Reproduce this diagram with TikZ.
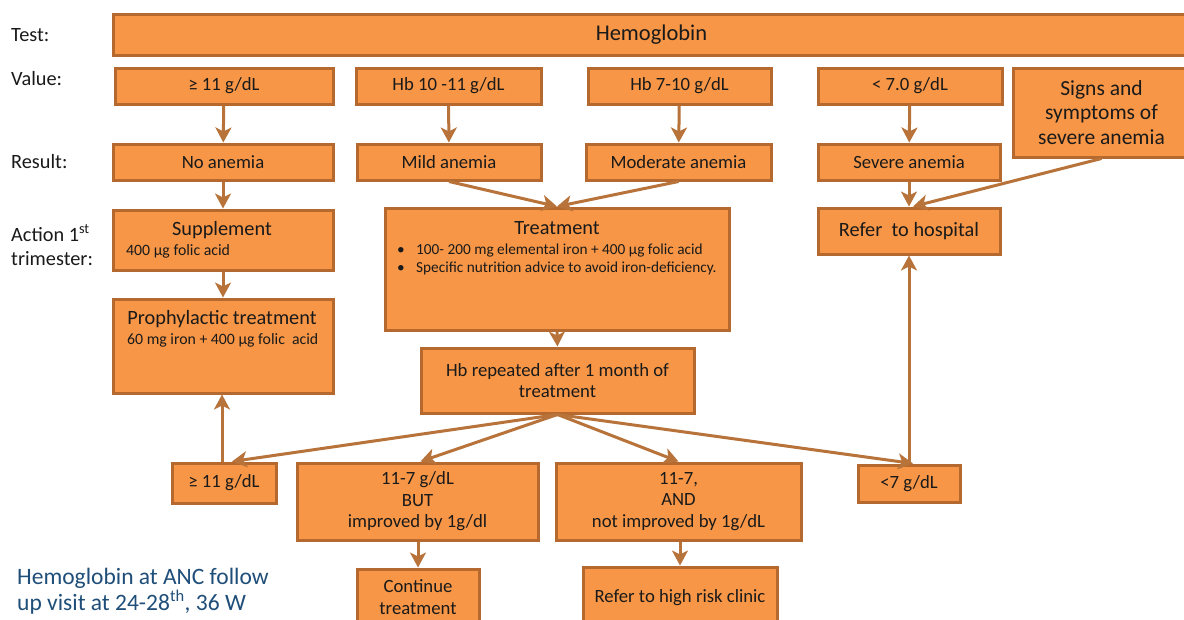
\documentclass[tikz,border=0pt]{standalone}
\usepackage{fontspec}
\setmainfont{Carlito}
\usetikzlibrary{arrows.meta,calc}

\definecolor{boxfill}{HTML}{F79646}
\definecolor{boxline}{HTML}{B5692E}
\definecolor{linkcol}{HTML}{B8733A}
\definecolor{notecol}{HTML}{1F4E79}
\definecolor{inktext}{HTML}{1A1A1A}

\tikzset{
  box/.style={draw=boxline, fill=boxfill, line width=3pt, inner sep=0pt,
    text=inktext, align=center, font=\fontsize{18.7}{21.5}\selectfont},
  rowlabel/.style={anchor=west, inner sep=0pt, text=inktext,
    font=\fontsize{20.3}{24}\selectfont, align=left},
  titletext/.style={inner sep=0pt, text=inktext, font=\fontsize{20.3}{22}\selectfont},
  smalltext/.style={anchor=west, inner sep=0pt, text=inktext, font=\fontsize{15.8}{17}\selectfont},
  bullettext/.style={anchor=west, inner sep=0pt, text=inktext, font=\fontsize{15.3}{16}\selectfont},
  link/.style={draw=linkcol, line width=3pt,
    -{Stealth[length=15pt,width=16pt,inset=4pt]}}
}

% \flowbox[options]{name}{x1}{y1}{x2}{y2}{text}: box given by its corners
\newcommand\flowbox[7][]{%
  \node[box, minimum width={(#5)-(#3)}, minimum height={(#6)-(#4)}, #1]
    (#2) at ({((#3)+(#5))/2},{((#4)+(#6))/2}) {#7};}

\begin{document}
\begin{tikzpicture}[x=1pt,y=-1pt]
\clip (0,0) rectangle (1184,619);
\fill[white] (0,0) rectangle (1184,619);

% row labels
\node[rowlabel] (ltest) at (11,35) {Test:};
\node[rowlabel] (lvalue) at (11,79) {Value:};
\node[rowlabel] (lresult) at (11,162) {Result:};
\node[rowlabel] (laction) at (11,245) {Action 1\textsuperscript{st}\\trimester:};

% test
\flowbox[font=\fontsize{22.5}{24}\selectfont]{test}{113}{14}{1190}{55}{Hemoglobin}

% values
\flowbox{v1}{115}{68}{333}{104}{≥ 11 g/dL}
\flowbox{v2}{356}{68}{541}{104}{Hb 10 -11 g/dL}
\flowbox{v3}{588}{68}{771}{104}{Hb 7-10 g/dL}
\flowbox{v4}{818}{68}{1002}{104}{< 7.0 g/dL}
\flowbox[font=\fontsize{21.5}{24.5}\selectfont]{signs}{1013}{68}{1190}{157}{Signs and\\symptoms of\\severe anemia}

% results
\flowbox{r1}{113}{144}{333}{180}{No anemia}
\flowbox{r2}{357}{144}{541}{180}{Mild anemia}
\flowbox{r3}{586}{144}{771}{180}{Moderate anemia}
\flowbox{r4}{818}{144}{1000}{180}{Severe anemia}

% first-trimester actions
\flowbox{suppl}{113}{210}{333}{270}{}
\node[titletext] (suppltitle) at (222,230) {Supplement};
\node[smalltext] (suppldose) at (126,251) {400 µg folic acid};

\flowbox{proph}{113}{299}{333}{393}{}
\node[titletext] (prophtitle) at (222,319) {Prophylactic treatment};
\node[smalltext] (prophdose) at (127,340) {60 mg iron + 400 µg folic\ \ acid};

\flowbox{treat}{385}{208}{729}{330}{}
\node[titletext] (treattitle) at (557,228) {Treatment};
\node[bullettext] (treatb1) at (397,250) {\makebox[19pt][l]{•}100- 200 mg elemental iron + 400 µg folic acid};
\node[bullettext] (treatb2) at (397,268) {\makebox[19pt][l]{•}Specific nutrition advice to avoid iron-deficiency.};

\flowbox[font=\fontsize{20.3}{22}\selectfont]{hosp}{818}{208}{1000}{254}{Refer\ \ to hospital}

% follow-up
\flowbox{hbrep}{421}{348}{694}{413}{Hb repeated after 1 month of\\treatment}

\flowbox{low1}{172}{463}{276}{503}{≥ 11 g/dL}
\flowbox{low2}{297}{463}{538}{540}{11-7 g/dL\\BUT\\improved by 1g/dl}
\flowbox{low3}{556}{463}{801}{540}{11-7,\\AND\\not improved by 1g/dL}
\flowbox{low4}{858}{465}{960}{502}{<7 g/dL}

\flowbox{cont}{357}{569}{479}{640}{}
\node[inner sep=0pt, text=inktext, font=\fontsize{18.7}{21.5}\selectfont, align=center]
  (conttext) at (418,597) {Continue\\treatment};
\flowbox{risk}{583}{567}{777}{640}{}
\node[inner sep=0pt, text=inktext, font=\fontsize{18.7}{21.5}\selectfont]
  (risktext) at (680,598) {Refer to high risk clinic};

% note
\node[anchor=west, inner sep=0pt, text=notecol, font=\fontsize{23.5}{26}\selectfont, align=left]
  (note) at (17,591) {Hemoglobin\ at ANC follow\\up visit at 24-28\textsuperscript{th}, 36 W};

% connectors
\draw[link] (v1) -- (r1);
\draw[link] (v2) -- (r2);
\draw[link] (v3) -- (r3);
\draw[link] (v4) -- (r4);
\draw[link] (r1) -- (suppl);
\draw[link] (r2.south) -- (treat.north);
\draw[link] (r3.south) -- (treat.north);
\draw[link] (r4) -- (hosp);
\draw[link] (signs.south) -- ([xshift=4pt]hosp.north);
\draw[link] (suppl) -- (proph);
\draw[link] (treat.south) -- (hbrep.north);
\draw[link] (hbrep.south) -- ([xshift=8pt]low1.north);
\draw[link] (hbrep.south) -- ([xshift=3pt]low2.north);
\draw[link] (hbrep.south) -- (low3.north);
\draw[link] (hbrep.south) -- ([xshift=4pt]low4.north);
\draw[link] ([xshift=-2pt]low1.north) -- ([xshift=-2pt]low1.north |- proph.south);
\draw[link] (low4.north) -- (low4.north |- hosp.south);
\draw[link] (low2.south -| cont.north) -- (cont.north);
\draw[link] (low3.south -| risk.north) -- (risk.north);
\end{tikzpicture}
\end{document}
